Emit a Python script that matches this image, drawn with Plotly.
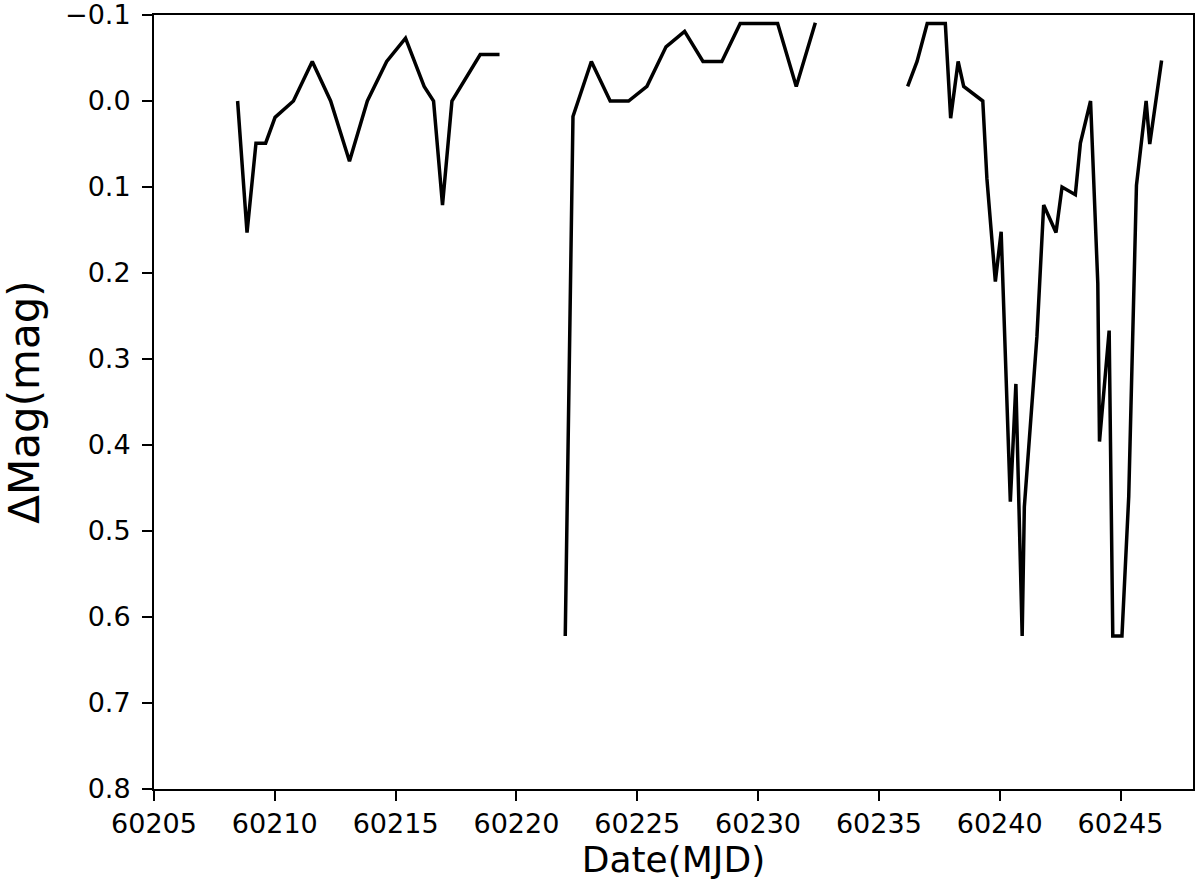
import plotly.graph_objects as go

# Segment 1
mjd_1 = [60208.46, 60208.85, 60209.22, 60209.62, 60210.01, 60210.77, 60211.55, 60212.31,
         60213.09, 60213.83, 60214.63, 60215.41, 60216.18, 60216.57, 60216.94, 60217.33,
         60218.50, 60219.30]
dmag_1 = [0.0, 0.153, 0.049, 0.049, 0.019, 0.0, -0.046, 0.0,
          0.07, 0.0, -0.046, -0.073, -0.017, 0.0, 0.121, 0.0,
          -0.054, -0.054]

# Segment 2
mjd_2 = [60222.02, 60222.34, 60223.10, 60223.88, 60224.64, 60225.40, 60226.19, 60226.96,
         60227.72, 60228.50, 60229.26, 60230.81, 60231.58, 60232.37]
dmag_2 = [0.622, 0.018, -0.046, 0.0, 0.0, -0.017, -0.063, -0.081,
          -0.046, -0.046, -0.090, -0.090, -0.017, -0.091]

# Segment 3
mjd_3 = [60236.19, 60236.58, 60237.00, 60237.75, 60237.97, 60238.28, 60238.51, 60239.30,
         60239.47, 60239.82, 60240.06, 60240.44, 60240.67, 60240.93, 60241.02, 60241.54,
         60241.82, 60242.33, 60242.58, 60243.13, 60243.34, 60243.76, 60244.06, 60244.13,
         60244.53, 60244.68, 60245.06, 60245.34, 60245.66, 60246.06, 60246.21, 60246.70]
dmag_3 = [-0.017, -0.046, -0.090, -0.090, 0.020, -0.046, -0.017, 0.0,
          0.090, 0.210, 0.152, 0.466, 0.329, 0.622, 0.472, 0.274,
          0.121, 0.153, 0.100, 0.109, 0.049, 0.0, 0.212, 0.396,
          0.267, 0.622, 0.622, 0.460, 0.098, 0.0, 0.050, -0.047]

x_ticks = [60205, 60210, 60215, 60220, 60225, 60230, 60235, 60240, 60245]
y_ticks = [-0.1, 0.0, 0.1, 0.2, 0.3, 0.4, 0.5, 0.6, 0.7, 0.8]

x_all = mjd_1 + [None] + mjd_2 + [None] + mjd_3
y_all = dmag_1 + [None] + dmag_2 + [None] + dmag_3

fig = go.Figure()
fig.add_trace(go.Scatter(x=x_all, y=y_all, mode="lines",
                         line=dict(color="black", width=3.5), connectgaps=False,
                         showlegend=False))

axis_common = dict(showline=True, linecolor="black", linewidth=2, mirror=True,
                   ticks="outside", ticklen=10, tickwidth=2, tickcolor="black",
                   showgrid=False, zeroline=False, automargin=False,
                   ticklabeloverflow="allow",
                   tickfont=dict(family="DejaVu Sans", size=27, color="black"))

fig.update_xaxes(range=[60205, 60248], tickvals=x_ticks, tickformat="d",
                 title=dict(text="Date(MJD)", font=dict(family="DejaVu Sans", size=36, color="black"),
                            standoff=8),
                 **axis_common)
fig.update_yaxes(range=[0.8, -0.1], tickvals=y_ticks, tickformat=".1f",
                 ticklabelstandoff=6,
                 title=dict(text="ΔMag(mag)", font=dict(family="DejaVu Sans", size=42, color="black"),
                            standoff=34),
                 **axis_common)

fig.update_layout(width=1200, height=890, plot_bgcolor="white", paper_bgcolor="white",
                  margin=dict(l=154, r=7, t=15, b=101))

fig.write_html("out.html", config={"displayModeBar": False},
               post_script="document.body.style.margin='0';")
